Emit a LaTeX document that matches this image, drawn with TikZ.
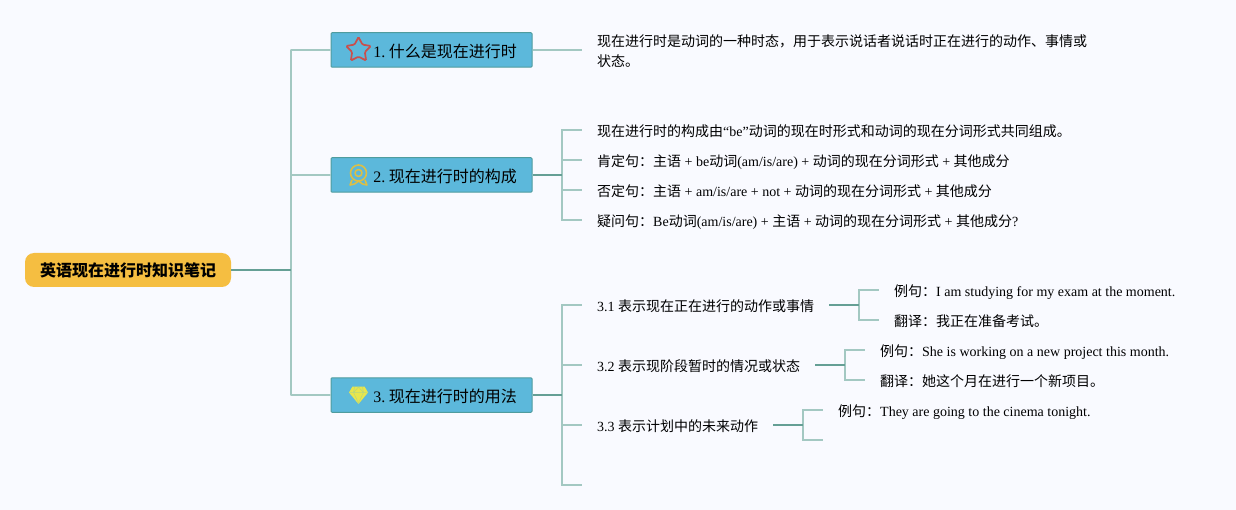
\documentclass[tikz,border=0pt]{standalone}
\usepackage{fontspec}
\setmainfont{Liberation Serif}
\newfontfamily\cjk{Noto Sans CJK SC}
\usetikzlibrary{shapes.geometric}
\definecolor{bgc}{HTML}{F9FAFF}
\definecolor{rootc}{HTML}{F5BE41}
\definecolor{boxc}{HTML}{5CB8DB}
\definecolor{boxl}{HTML}{4F9C9E}
\definecolor{dark}{HTML}{659F95}
\definecolor{lite}{HTML}{A3C8C2}
\definecolor{starc}{HTML}{C94F4C}
\definecolor{medalc}{HTML}{DDBF45}
\definecolor{gemc}{HTML}{E8E64C}
\newcommand{\zh}[1]{{\cjk #1}}
\tikzset{
  rootbox/.style={fill=rootc,rounded corners=9pt,minimum width=206pt,minimum height=34pt,inner sep=0pt,text height=14pt,text depth=0pt,font=\fontsize{16}{20}\selectfont\bfseries\cjk},
  branchbox/.style={fill=boxc,draw=boxl,line width=1pt,rounded corners=1pt,minimum width=201pt,minimum height=34.5pt,inner sep=0pt,text height=15pt,text depth=0pt,font=\fontsize{16}{20}\selectfont},
  leaf/.style={anchor=west,inner xsep=15pt,inner ysep=0pt,text height=13.2pt,text depth=0pt,font=\fontsize{14}{20}\selectfont},
  thickline/.style={draw=dark,line width=2pt},
  thinline/.style={draw=lite,line width=1.6pt},
  trunk/.style={draw=lite,line width=1.8pt,rounded corners=0.5pt},
}
\begin{document}
\begin{tikzpicture}[x=1pt,y=-1pt]
\useasboundingbox (0,0) rectangle (1236,510);
\fill[bgc] (0,0) rectangle (1236,510);

\node[rootbox] (root) at (128,270) {英语现在进行时知识笔记};
\node[branchbox] (b1) at (431.5,50) {\hspace*{27pt}1.\hspace{3.5pt}\zh{什么是现在进行时}};
\node[branchbox] (b2) at (431.5,175) {\hspace*{27pt}2.\hspace{3.5pt}\zh{现在进行时的构成}};
\node[branchbox] (b3) at (431.5,395) {\hspace*{27pt}3.\hspace{3.5pt}\zh{现在进行时的用法}};

% leaves of branch 1
\node[leaf,text width=490pt,align=left,text height=,text depth=] (l1) at (582,51)
  {\zh{现在进行时是动词的一种时态，用于表示说话者说话时正在进行的动作、事情或}\\[0pt]\zh{状态。}};
% leaves of branch 2
\node[leaf] (l21) at (582,130) {\zh{现在进行时的构成由}“be”\zh{动词的现在时形式和动词的现在分词形式共同组成。}};
\node[leaf] (l22) at (582,160) {\zh{肯定句：主语} + be\zh{动词}(am/is/are) + \zh{动词的现在分词形式} + \zh{其他成分}};
\node[leaf] (l23) at (582,190) {\zh{否定句：主语} + am/is/are + not + \zh{动词的现在分词形式} + \zh{其他成分}};
\node[leaf] (l24) at (582,220) {\zh{疑问句：}Be\zh{动词}(am/is/are) + \zh{主语} + \zh{动词的现在分词形式} + \zh{其他成分}?};
% leaves of branch 3
\node[leaf] (l31) at (582,305) {3.1 \zh{表示现在正在进行的动作或事情}};
\node[leaf] (l32) at (582,365) {3.2 \zh{表示现阶段暂时的情况或状态}};
\node[leaf] (l33) at (582,425) {3.3 \zh{表示计划中的未来动作}};
\coordinate (l34) at (582,485);
\node[leaf] (e11) at (879,290) {\zh{例句：}I am studying for my exam at the moment.};
\node[leaf] (e12) at (879,320) {\zh{翻译：我正在准备考试。}};
\node[leaf] (e21) at (865,350) {\zh{例句：}She is working on a new project this month.};
\node[leaf] (e22) at (865,380) {\zh{翻译：她这个月在进行一个新项目。}};
\node[leaf] (e31) at (823,410) {\zh{例句：}They are going to the cinema tonight.};
\coordinate (e32) at (823,440);

% trunk coordinates
\coordinate (jr) at (291,270);
\coordinate (j2) at (562,175);
\coordinate (j3) at (562,395);
\coordinate (j31) at (859,305);
\coordinate (j32) at (845,365);
\coordinate (j33) at (803,425);

% root fan
\draw[trunk] (jr) |- (b1.west);
\draw[trunk] (jr) |- (b2.west);
\draw[trunk] (jr) |- (b3.west);
\draw[thickline] (root.east) -- (jr);
% branch 1
\draw[thinline] (b1.east) -- (b1.east -| l1.west);
% branch 2
\foreach \t in {l21,l22,l23,l24} \draw[thinline] (j2) |- (\t.west);
\draw[thickline] (b2.east) -- (j2);
% branch 3
\foreach \t in {l31,l32,l33} \draw[thinline] (j3) |- (\t.west);
\draw[thinline] (j3) |- (l34);
\draw[thickline] (b3.east) -- (j3);
% sub branches
\draw[thinline] (j31) |- (e11.west);
\draw[thinline] (j31) |- (e12.west);
\draw[thickline] (l31.east) -- (j31);
\draw[thinline] (j32) |- (e21.west);
\draw[thinline] (j32) |- (e22.west);
\draw[thickline] (l32.east) -- (j32);
\draw[thinline] (j33) |- (e31.west);
\draw[thinline] (j33) |- (e32);
\draw[thickline] (l33.east) -- (j33);

% star icon
\node[star,star points=5,star point ratio=1.95,draw=starc,line width=1.7pt,rounded corners=1.2pt,minimum size=26pt,inner sep=0pt] (staricon) at (358.5,50) {};
% medal icon
\begin{scope}[draw=medalc,line width=1.6pt,line join=round]
\draw (358.5,173) circle (8pt);
\draw (358.5,173) circle (3.5pt);
\draw (352,180) -- (350,185) -- (354.5,184) -- (358.5,181) -- (362.5,184) -- (367,185) -- (365,180);
\end{scope}
% gem icon
\fill[gemc] (352.5,386.5) -- (364.5,386.5) -- (368,392.5) -- (358.5,404) -- (349,392.5) -- cycle;
\draw[boxc!35!gemc,line width=0.5pt] (349.5,392.5) -- (367.5,392.5) (354.5,387) -- (353.5,392.5) -- (358.5,403) -- (363.5,392.5) -- (362.5,387) (353.5,392.5) -- (358.5,387) -- (363.5,392.5);
\end{tikzpicture}
\end{document}
